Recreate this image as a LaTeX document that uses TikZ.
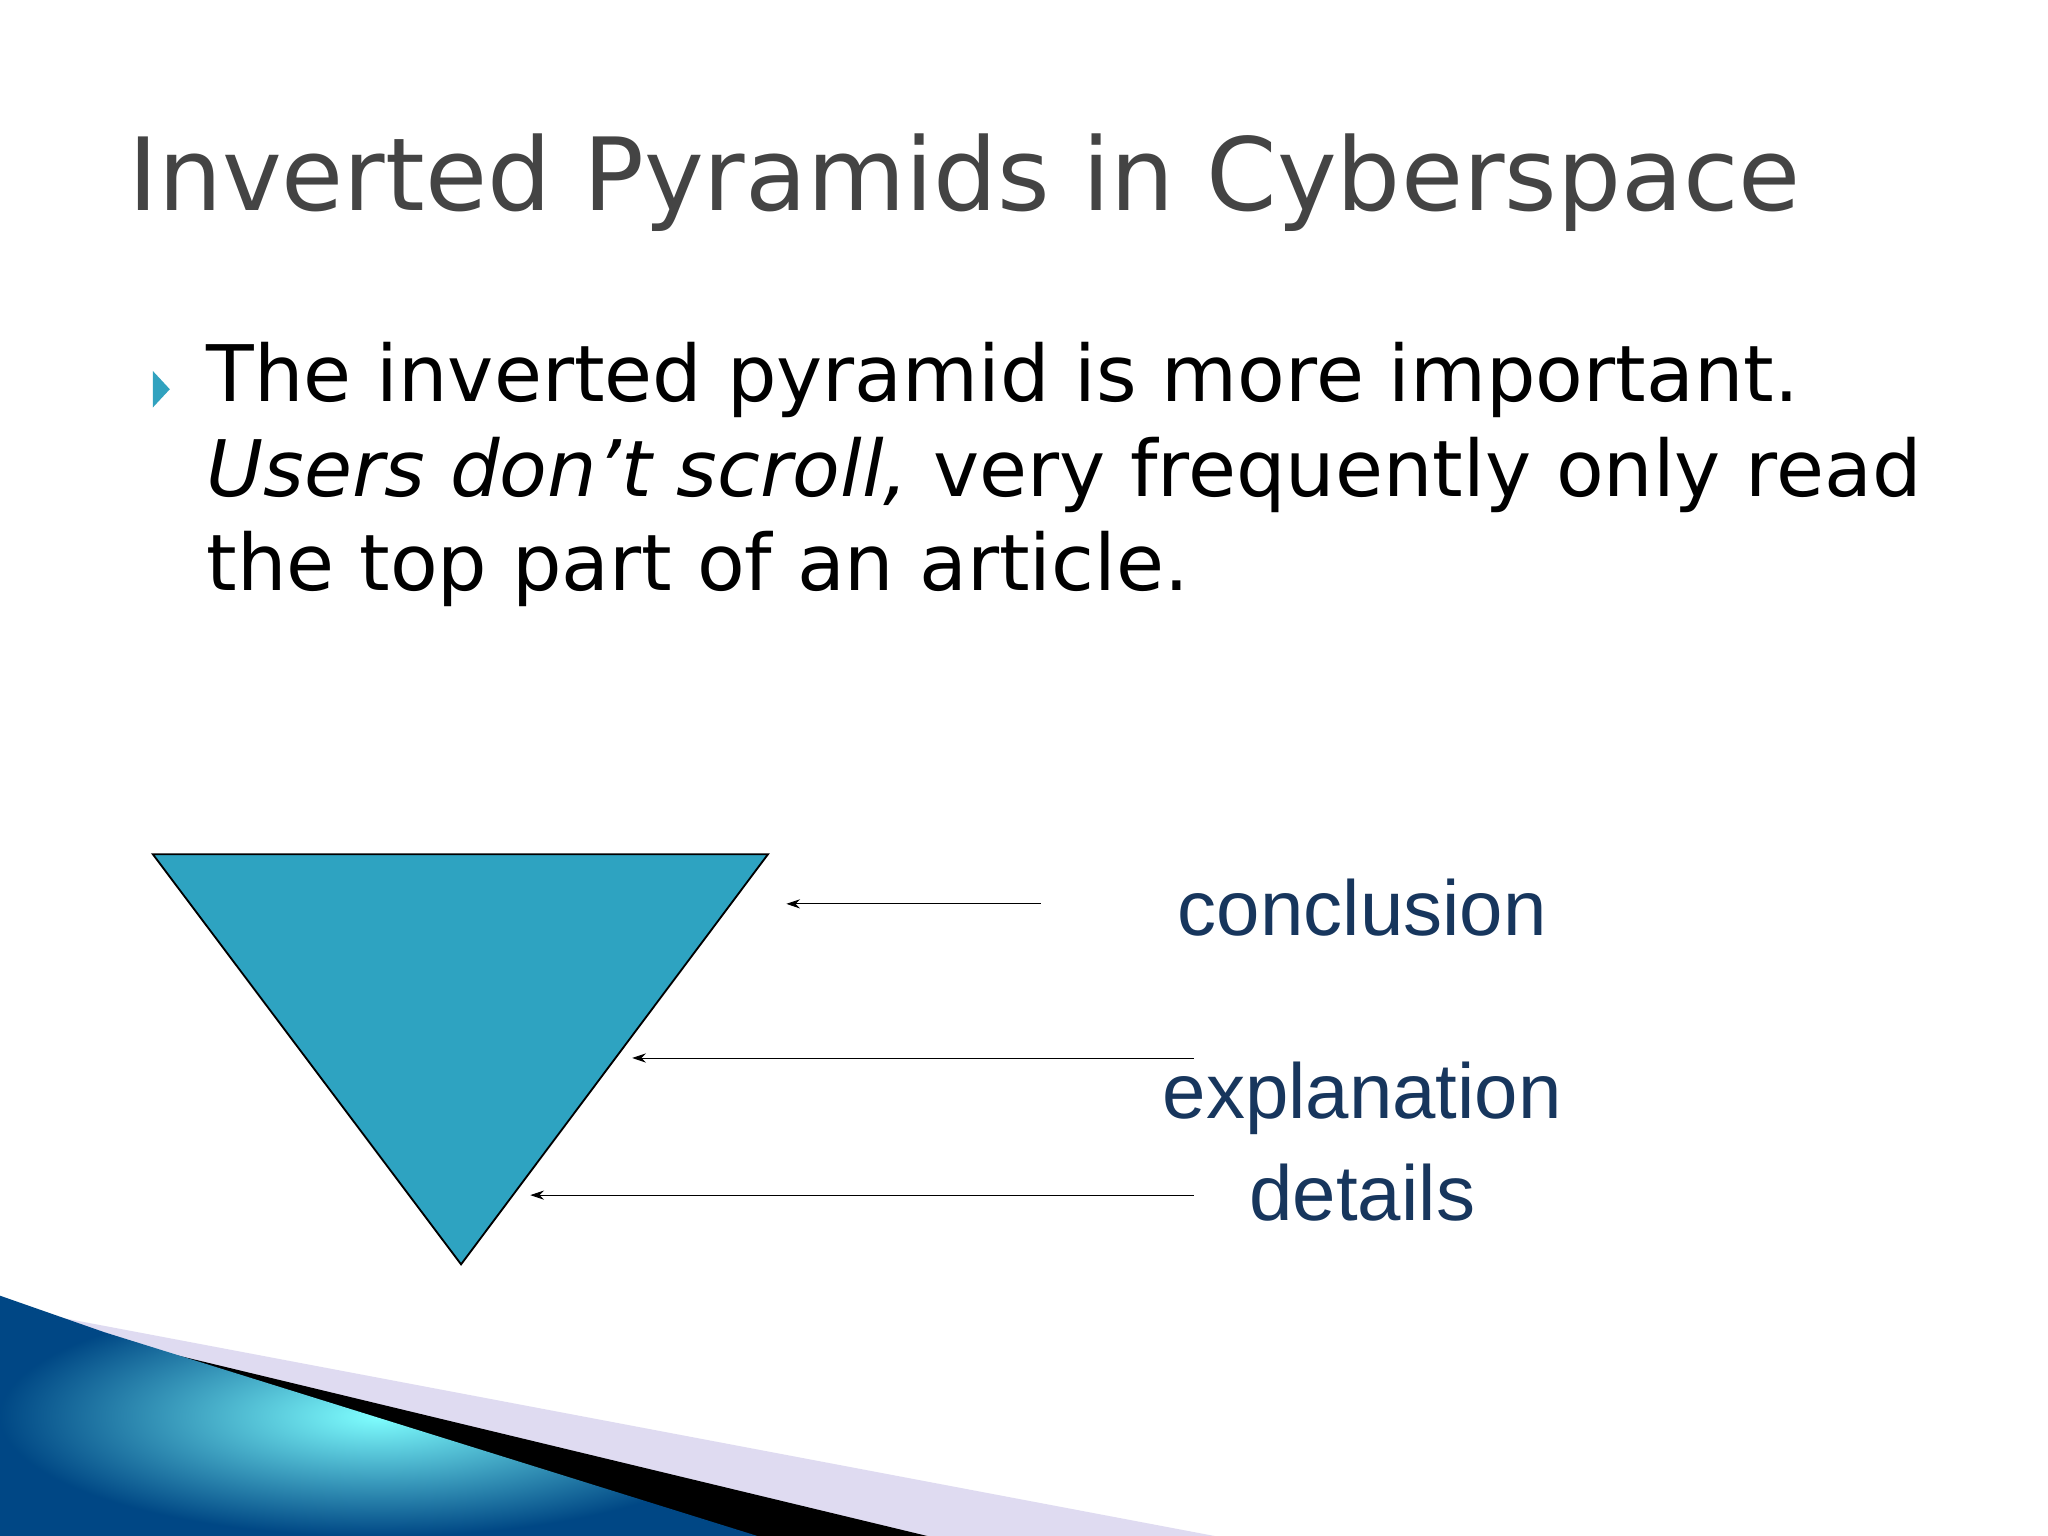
\documentclass[tikz,border=0pt]{standalone}
\usepackage{fontspec}
\usetikzlibrary{arrows.meta}
\setmainfont{DejaVu Sans}
\newfontfamily\arialf{Liberation Sans}
\definecolor{tri}{HTML}{2EA3C1}
\definecolor{lbl}{HTML}{17365D}
\definecolor{bul}{HTML}{31A2BF}
\definecolor{ttl}{HTML}{444444}
\begin{document}
\begin{tikzpicture}[x=0.02cm,y=-0.02cm,
  lab/.style={font=\arialf\fontsize{34}{38}\selectfont,text=lbl},
  arr/.style={-{Stealth[length=6pt,width=4pt]},thin}]
\useasboundingbox (0,0) rectangle (1568,1176);
\fill[white] (0,0) rectangle (1568,1176);
% bottom decoration
\fill[cyan!8!blue!12!white] (0,1000) -- (930,1176) -- (0,1176) -- cycle;
\fill[black] (0,1005) -- (710,1176) -- (560,1176) -- cycle;
\shade[inner color=cyan!50!white, outer color=teal!70!blue!80!black]
  (0,992) -- (80,1020) -- (580,1176) -- (0,1176) -- cycle;
% title
\node[anchor=west,text=ttl,font=\fontsize{44}{50}\selectfont] (title) at (92,140) {Inverted Pyramids in Cyberspace};
% bullet
\fill[bul] (117,284) -- (130,298) -- (117,312) -- cycle;
\node[anchor=north west,align=left,font=\fontsize{34}{41}\selectfont,inner sep=0] (body) at (158,262)
 {The inverted pyramid is more important.\\ \textit{Users don't scroll,} very frequently only read\\ the top part of an article.};
% triangle
\coordinate (a) at (117,654); \coordinate (b) at (588,654); \coordinate (c) at (353,968);
\filldraw[fill=tri,draw=black,thick] (a) -- (b) -- (c) -- cycle;
\coordinate (s1) at (797,692); \coordinate (e1) at (602,692);
\coordinate (s2) at (914,810); \coordinate (e2) at (484,810);
\coordinate (s3) at (914,915); \coordinate (e3) at (406,915);
\draw[arr] (s1) -- (e1);
\draw[arr] (s2) -- (e2);
\draw[arr] (s3) -- (e3);
\node[lab] (l1) at (1043,695) {conclusion};
\node[lab] (l2) at (1043,841) {explanation};
\node[lab] (l3) at (1043,913) {details};
\end{tikzpicture}
\end{document}
